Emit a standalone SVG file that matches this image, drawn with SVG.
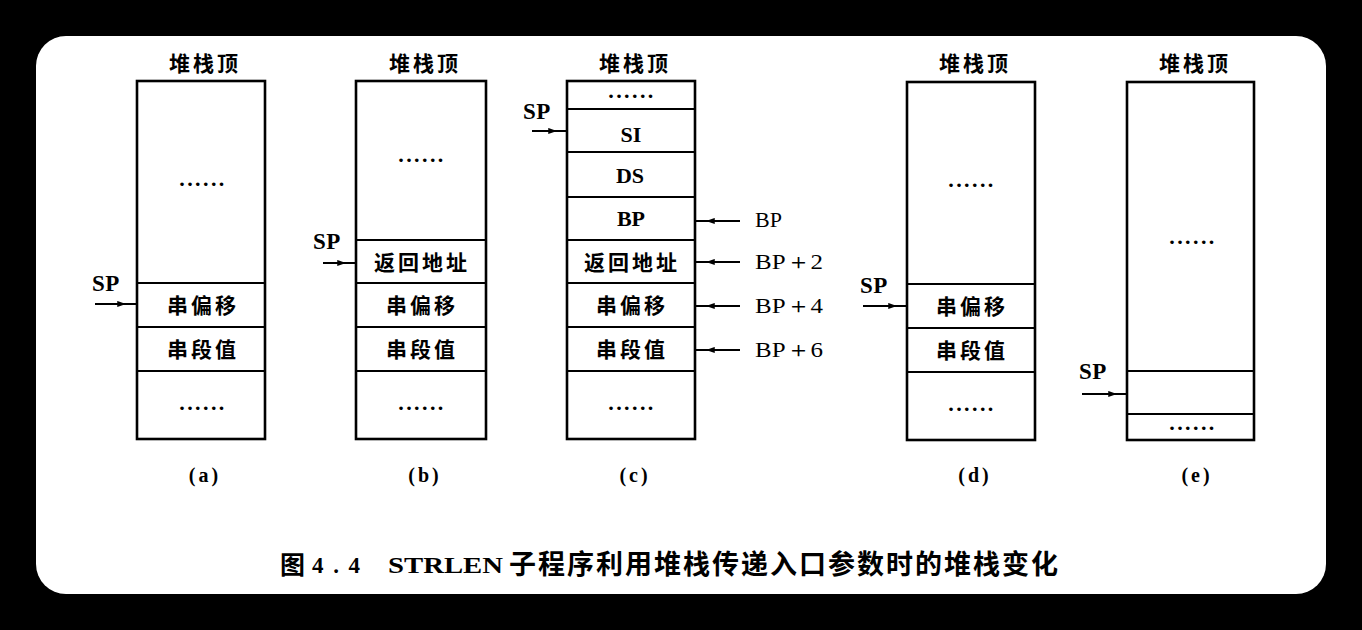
<svg xmlns="http://www.w3.org/2000/svg" width="1362" height="630" viewBox="0 0 1362 630">
<style>
.box{fill:none;stroke:#000;stroke-width:2.6}
.div{stroke:#000;stroke-width:2.2}
.cjk{font-family:"Noto Sans CJK SC",sans-serif;font-weight:bold;font-size:21px;letter-spacing:3px;text-anchor:middle;fill:#000}
.lat{font-family:"Liberation Serif",serif;font-size:22px;fill:#000}
.reg{font-weight:bold}
.sp{font-family:"Liberation Serif",serif;font-weight:bold;font-size:23px;letter-spacing:0.5px;fill:#000}
.cen{text-anchor:middle}
.dots{font-family:"Liberation Serif",serif;font-weight:bold;font-size:22px;letter-spacing:2.4px;text-anchor:middle;fill:#000}
.sub{font-family:"Liberation Serif",serif;font-weight:bold;font-size:20px;letter-spacing:3px;text-anchor:middle;fill:#000}
.arr{fill:none;stroke:#000;stroke-width:2;marker-mid:url(#ah)}
</style>
<defs>
<marker id="ah" viewBox="0 0 10 8" refX="10" refY="4" markerWidth="10" markerHeight="7" markerUnits="userSpaceOnUse" orient="auto">
<path d="M0,0.5 L10,4 L0,7.5 Z" fill="#000"/>
</marker>
</defs>
<rect x="0" y="0" width="1362" height="630" fill="#000"/>
<rect x="36" y="36" width="1290" height="558" rx="30" ry="30" fill="#fff"/>

<g id="stack-a">
<text class="cjk" x="205" y="71">堆栈顶</text>
<rect class="box" x="137" y="81" width="128" height="358"/>
<line class="div" x1="137" y1="283" x2="265" y2="283"/>
<line class="div" x1="137" y1="327" x2="265" y2="327"/>
<line class="div" x1="137" y1="371" x2="265" y2="371"/>
<text class="dots" x="203" y="186">......</text>
<text class="cjk" x="203" y="313">串偏移</text>
<text class="cjk" x="203" y="357">串段值</text>
<text class="dots" x="203" y="410">......</text>
<text class="sp" x="92" y="291">SP</text>
<text class="sub" x="205" y="482">(a)</text>
</g>

<g id="stack-b">
<text class="cjk" x="425" y="71">堆栈顶</text>
<rect class="box" x="356" y="81" width="130" height="358"/>
<line class="div" x1="356" y1="240" x2="486" y2="240"/>
<line class="div" x1="356" y1="283" x2="486" y2="283"/>
<line class="div" x1="356" y1="327" x2="486" y2="327"/>
<line class="div" x1="356" y1="371" x2="486" y2="371"/>
<text class="dots" x="422" y="162">......</text>
<text class="cjk" x="422" y="270">返回地址</text>
<text class="cjk" x="422" y="313">串偏移</text>
<text class="cjk" x="422" y="357">串段值</text>
<text class="dots" x="422" y="410">......</text>
<text class="sp" x="313" y="249">SP</text>
<text class="sub" x="425" y="482">(b)</text>
</g>

<g id="stack-c">
<text class="cjk" x="635" y="71">堆栈顶</text>
<rect class="box" x="567" y="81" width="128" height="358"/>
<line class="div" x1="567" y1="109" x2="695" y2="109"/>
<line class="div" x1="567" y1="152" x2="695" y2="152"/>
<line class="div" x1="567" y1="197" x2="695" y2="197"/>
<line class="div" x1="567" y1="240" x2="695" y2="240"/>
<line class="div" x1="567" y1="283" x2="695" y2="283"/>
<line class="div" x1="567" y1="327" x2="695" y2="327"/>
<line class="div" x1="567" y1="371" x2="695" y2="371"/>
<text class="dots" x="632" y="98">......</text>
<text class="lat reg cen" x="631" y="142">SI</text>
<text class="lat reg cen" x="630" y="183">DS</text>
<text class="lat reg cen" x="631" y="226">BP</text>
<text class="cjk" x="632" y="270">返回地址</text>
<text class="cjk" x="632" y="313">串偏移</text>
<text class="cjk" x="632" y="357">串段值</text>
<text class="dots" x="632" y="410">......</text>
<text class="sp" x="523" y="119">SP</text>
<text class="lat" x="755" y="227">BP</text>
<text class="lat" x="755" y="269" textLength="68" lengthAdjust="spacingAndGlyphs">BP＋2</text>
<text class="lat" x="755" y="313" textLength="68" lengthAdjust="spacingAndGlyphs">BP＋4</text>
<text class="lat" x="755" y="357" textLength="68" lengthAdjust="spacingAndGlyphs">BP＋6</text>
<text class="sub" x="635" y="482">(c)</text>
</g>

<g id="stack-d">
<text class="cjk" x="975" y="71">堆栈顶</text>
<rect class="box" x="907" y="82" width="128" height="358"/>
<line class="div" x1="907" y1="284" x2="1035" y2="284"/>
<line class="div" x1="907" y1="328" x2="1035" y2="328"/>
<line class="div" x1="907" y1="372" x2="1035" y2="372" stroke-width="1.3"/>
<text class="dots" x="972" y="187">......</text>
<text class="cjk" x="972" y="314">串偏移</text>
<text class="cjk" x="972" y="358">串段值</text>
<text class="dots" x="972" y="411">......</text>
<text class="sp" x="860" y="293">SP</text>
<text class="sub" x="975" y="482">(d)</text>
</g>

<g id="stack-e">
<text class="cjk" x="1195" y="71">堆栈顶</text>
<rect class="box" x="1127" y="82" width="127" height="358"/>
<line class="div" x1="1127" y1="371" x2="1254" y2="371" stroke-width="1.5"/>
<line class="div" x1="1127" y1="414" x2="1254" y2="414" stroke-width="2.6"/>
<text class="dots" x="1193" y="244">......</text>
<text class="dots" x="1193" y="430">......</text>
<text class="sp" x="1079" y="379">SP</text>
<text class="sub" x="1197" y="482">(e)</text>
</g>

<g id="connectors">
<polyline class="arr" points="95,304 126,304 137,304"/>
<polyline class="arr" points="323,263 346,263 356,263"/>
<polyline class="arr" points="532,131 557,131 567,131"/>
<polyline class="arr" points="863,306 897,306 907,306"/>
<polyline class="arr" points="1082,394 1117,394 1127,394"/>
<polyline class="arr" points="740,221 706,221 695,221"/>
<polyline class="arr" points="740,262 706,262 695,262"/>
<polyline class="arr" points="740,306 706,306 695,306"/>
<polyline class="arr" points="740,350 706,350 695,350"/>
</g>

<g id="caption">
<text x="280" y="574" font-family="Noto Sans CJK SC, sans-serif" font-weight="bold" font-size="25" fill="#000">图</text>
<text x="312" y="573" font-family="Liberation Serif, serif" font-weight="bold" font-size="23" fill="#000" textLength="48" lengthAdjust="spacing">4.4</text>
<text x="388" y="573" font-family="Liberation Serif, serif" font-weight="bold" font-size="23" fill="#000" textLength="115" lengthAdjust="spacingAndGlyphs">STRLEN</text>
<text x="509" y="574" font-family="Noto Sans CJK SC, sans-serif" font-weight="bold" font-size="27" fill="#000" textLength="549" lengthAdjust="spacing">子程序利用堆栈传递入口参数时的堆栈变化</text>
</g>
</svg>
